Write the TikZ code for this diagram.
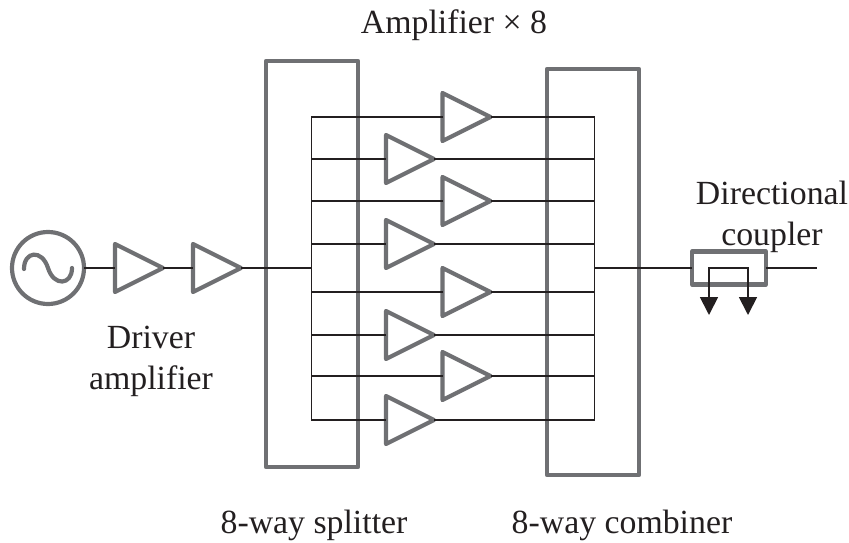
\documentclass[tikz,border=0pt]{standalone}
\usepackage{fontspec}
\setmainfont{Liberation Serif}
\usetikzlibrary{shapes.geometric,arrows.meta}
\definecolor{boxgray}{HTML}{6F7073}
\definecolor{wireblack}{HTML}{231F20}
\tikzset{
  x=1pt,y=-1pt,
  heavy/.style={draw=boxgray,line width=4.2pt,line join=round},
  wire/.style={draw=wireblack,line width=1.8pt},
  amp/.style={isosceles triangle,isosceles triangle stretches,shape border rotate=0,
    draw=boxgray,fill=white,line width=4.2pt,line join=round,minimum width=48pt,minimum height=48pt,
    inner sep=0pt,outer sep=0pt,anchor=lower side},
  lbl/.style={font=\fontsize{33.8}{34}\selectfont,text=wireblack,anchor=base,inner sep=0pt},
  pick/.style={-{Triangle[length=18pt,width=18pt]}},
}
\begin{document}
\begin{tikzpicture}
\useasboundingbox (0,0) rectangle (849,542);
% big blocks
\node[heavy,minimum width=92pt,minimum height=406pt,inner sep=0pt,outer sep=0pt] (split) at (312,264) {};
\node[heavy,minimum width=92pt,minimum height=406pt,inner sep=0pt,outer sep=0pt] (comb) at (593,272) {};
% source
\node[heavy,circle,minimum size=72pt,inner sep=0pt,outer sep=0pt] (src) at (48,268) {};
\draw[draw=boxgray,line width=4.2pt,line cap=round] (24,269) .. controls (24,251) and (42,249) .. (48,268) .. controls (54,287) and (72,285) .. (72,268);
% driver amps
\node[amp] (d1) at (115,268) {};
\node[amp] (d2) at (193,268) {};
% output amps
\node[amp] (a1) at (442.5,117) {};
\node[amp] (a2) at (386,159) {};
\node[amp] (a3) at (442.5,201) {};
\node[amp] (a4) at (386,244) {};
\node[amp] (a5) at (442.5,292) {};
\node[amp] (a6) at (386,335) {};
\node[amp] (a7) at (442.5,376) {};
\node[amp] (a8) at (386,420) {};
% buses
\coordinate (lt) at (311.5,117);
\coordinate (lb) at (311.5,420);
\coordinate (rt) at (594.5,117);
\coordinate (rb) at (594.5,420);
\coordinate (lm) at (311.5,268);
\coordinate (rm) at (594.5,268);
\coordinate (out) at (817,268);
% coupler
\node[heavy,minimum width=74pt,minimum height=33pt,inner sep=0pt,outer sep=0pt] (coup) at (729,268) {};
\coordinate (tapa) at (709,268);
\coordinate (tapb) at (748,268);
\coordinate (tipa) at (709,315);
\coordinate (tipb) at (748,315);
% wires
\draw[wire,line cap=rect] (lt) -- (lb);
\draw[wire,line cap=rect] (rt) -- (rb);
\draw[wire] (src.east) -- (d1.lower side);
\draw[wire] (d1.apex) -- (d2.lower side);
\draw[wire] (d2.apex) -- (lm);
\foreach \a in {1,...,8}{
  \draw[wire] (a\a.lower side -| lt) -- (a\a.lower side);
  \draw[wire] (a\a.apex) -- (a\a.apex -| rt);
}
\draw[wire] (rm) -- (coup.west);
\draw[wire] (coup.east) -- (out);
\draw[wire,pick] (tapa) -- (tipa);
\draw[wire,pick] (tapb) -- (tipb);
\draw[wire,line cap=rect] (tapa) -- (tapb);
% labels
\node[lbl] at (454,33) {Amplifier × 8};
\node[lbl] at (772,204) {Directional};
\node[lbl] at (772,245) {coupler};
\node[lbl] at (151,348) {Driver};
\node[lbl] at (151,389) {amplifier};
\node[lbl] at (314,533) {8-way splitter};
\node[lbl] at (622,533) {8-way combiner};
\end{tikzpicture}
\end{document}
